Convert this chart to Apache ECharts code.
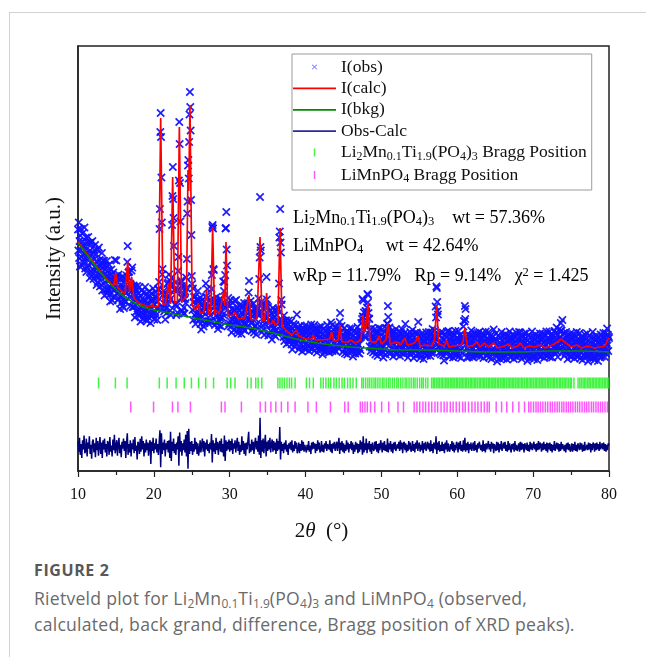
<!DOCTYPE html>
<html>
<head>
<meta charset="utf-8">
<script src="https://cdn.jsdelivr.net/npm/echarts@6/dist/echarts.min.js"></script>
<style>
  html, body { margin: 0; padding: 0; background: #fff; }
  #card { position: absolute; left: 9px; top: 12px; width: 637px; height: 645px;
          border-left: 1px solid #d2d2d2; border-top: 1px solid #d2d2d2; }
  #chart { position: absolute; left: 0; top: 0; width: 646px; height: 545px; }
  #caption { position: absolute; left: 34px; top: 561px; width: 612px;
             font-family: 'Open Sans', Lato, sans-serif; color: #6a6a6a; }
  #caption .fig { font-weight: bold; font-size: 16px; line-height: 18px; color: #585858; letter-spacing: 0.6px; }
  #caption .txt { margin-top: 6px; font-size: 17.6px; line-height: 26px; letter-spacing: 0.25px; }
  #caption sub { font-size: 12px; line-height: 0; vertical-align: -3px; letter-spacing: 0; }
</style>
</head>
<body>
<div id="card"></div>
<div id="chart"></div>
<div id="caption">
  <div class="fig">FIGURE 2</div>
  <div class="txt">Rietveld plot for Li<sub>2</sub>Mn<sub>0.1</sub>Ti<sub>1.9</sub>(PO<sub>4</sub>)<sub>3</sub> and LiMnPO<sub>4</sub> (observed,<br>calculated, back grand, difference, Bragg position of XRD peaks).</div>
</div>
<script>
// ---- 2θ axis ----
const thetaMin = 10;
const thetaMax = 80;
const thetaTickStep = 10;

// ---- observed intensity, 10°–80° in 0.05° steps (arbitrary units), one row per degree ----
const obsStart = 10;
const obsStep = 0.05;
const obsCounts = [
  483,441,497,426,460,409,471,441,484,428,450,411,459,476,418,451,424,487,434,405,
  426,467,398,444,456,406,436,468,411,426,456,386,441,417,457,399,433,391,460,404,
  436,384,423,442,400,452,390,406,434,372,420,442,378,408,387,447,393,422,369,409,
  392,416,372,436,361,407,421,375,392,420,351,403,377,411,363,390,420,355,391,362,
  401,365,413,353,382,339,392,366,403,356,375,341,382,397,348,380,362,422,386,370,
  390,421,355,385,389,342,365,393,345,358,384,324,372,351,386,337,365,330,389,342,
  369,326,359,376,340,385,338,357,391,357,418,450,387,397,361,399,348,375,330,373,
  369,401,360,407,328,363,371,328,343,369,307,355,331,362,319,343,370,313,345,320,
  356,323,368,312,340,299,349,326,361,316,335,304,342,357,311,337,317,368,325,303,
  320,354,300,337,348,308,333,359,314,327,351,296,341,323,355,310,342,313,365,316,
  342,303,333,349,318,358,312,325,348,302,339,364,325,363,378,484,524,678,716,668,
  587,497,393,404,326,353,360,319,334,357,303,345,325,353,316,343,374,334,377,364,
  393,350,381,321,344,312,374,387,492,550,608,544,506,450,362,363,333,377,333,312,
  329,361,317,363,400,428,581,698,654,576,499,377,381,347,370,320,346,315,368,327,
  354,315,344,359,336,387,366,424,515,539,611,622,585,658,713,758,728,681,542,472,
  390,374,322,365,302,338,348,312,326,349,294,335,315,342,305,330,360,318,343,313,
  339,304,347,294,321,283,330,308,342,300,318,289,326,339,296,327,314,375,349,335,
  345,364,299,327,331,294,317,341,299,311,342,300,364,392,488,492,485,404,402,329,
  338,292,321,340,311,348,298,308,330,284,321,338,291,314,299,345,305,328,289,320,
  307,335,313,379,331,360,378,332,392,485,486,518,443,411,333,332,346,291,317,295,
  331,300,342,289,316,277,324,302,336,293,311,282,322,340,300,322,297,342,302,280,
  295,327,275,311,321,284,307,332,290,302,326,274,316,299,330,287,313,282,336,295,
  320,281,311,325,294,334,288,307,336,304,357,380,325,332,303,340,296,319,280,310,
  298,318,284,335,277,314,325,289,304,327,273,315,295,323,286,313,345,315,384,427,
  548,448,441,338,333,278,318,291,325,283,301,272,309,328,293,332,328,388,343,307,
  307,328,271,302,312,275,297,321,280,292,315,263,294,291,326,285,308,273,322,281,
  308,269,298,313,282,321,275,294,325,298,375,467,479,524,457,437,342,333,278,301,
  282,297,268,311,260,291,301,269,282,301,254,289,271,295,262,280,301,257,281,262,
  288,262,299,253,276,243,284,265,294,258,273,249,280,292,255,277,265,313,283,262,
  260,288,243,273,281,249,270,291,254,266,284,239,276,261,286,249,271,245,290,254,
  276,243,268,281,255,289,250,261,280,240,272,287,246,265,253,293,258,278,244,271,
  269,283,251,292,241,273,283,251,264,284,237,273,256,280,248,266,288,244,268,249,
  278,252,289,243,266,233,274,255,284,248,263,239,270,282,245,267,250,292,258,240,
  254,282,237,268,276,244,270,297,266,278,292,240,271,256,282,245,268,241,287,250,
  272,239,264,277,251,285,246,262,288,257,298,316,269,276,255,290,252,272,238,265,
  255,271,242,286,235,267,277,246,259,280,233,269,252,276,244,262,285,240,266,247,
  274,248,285,239,262,229,270,251,280,244,259,235,266,278,241,263,246,288,254,236,
  252,280,235,266,274,242,268,296,273,304,344,309,341,308,317,270,290,267,320,290,
  319,291,327,354,337,352,316,305,304,249,273,282,240,259,247,286,251,271,237,263,
  253,269,240,284,233,265,275,244,257,277,230,270,258,286,255,269,285,237,262,243,
  272,246,283,237,260,227,268,249,278,242,257,233,268,286,259,295,294,330,308,276,
  272,287,234,261,269,237,259,280,244,254,274,229,267,252,279,242,265,238,284,248,
  266,233,258,271,245,279,240,251,270,230,262,277,236,255,243,283,248,268,234,261,
  254,276,252,294,237,265,272,241,254,274,227,263,246,270,238,256,278,234,259,240,
  272,246,282,236,259,226,267,247,276,240,255,231,262,277,246,274,259,298,256,233,
  243,271,226,257,265,233,254,275,239,249,269,224,261,246,272,235,258,231,277,241,
  264,231,256,270,244,278,239,251,270,230,262,277,236,255,244,284,249,269,236,266,
  259,281,264,329,307,369,366,338,320,313,248,273,250,270,238,256,277,233,258,239,
  266,240,277,231,254,221,262,243,272,240,259,238,270,279,237,255,238,280,246,228,
  263,230,255,268,242,276,237,248,267,227,259,274,233,252,240,280,245,265,231,258,
  249,265,236,280,229,261,271,240,253,273,226,262,245,269,237,260,289,257,300,299,
  330,304,324,260,269,227,263,244,273,237,252,228,259,271,234,256,239,281,247,229,
  244,272,227,258,266,234,255,276,240,250,273,231,270,253,276,236,259,232,278,242,
  262,229,254,267,241,275,236,247,266,226,258,273,240,257,242,279,244,264,230,257,
  247,263,234,278,227,259,269,238,251,271,224,260,243,267,239,260,283,237,259,237,
  264,238,275,229,252,219,260,241,270,234,249,225,256,268,231,253,236,278,244,226,
  242,270,225,256,264,232,253,274,238,248,268,223,260,245,271,237,263,235,279,240,
  260,227,252,265,239,273,234,245,264,224,256,271,230,249,237,277,242,262,228,255,
  247,263,234,278,231,266,277,244,254,271,224,260,243,267,235,253,275,231,256,237,
  265,239,276,230,253,220,261,242,271,235,250,226,257,269,232,254,237,279,245,227,
  241,269,224,255,263,231,252,273,237,247,267,222,259,244,270,233,256,229,275,239,
  262,229,254,267,241,275,236,247,266,226,258,273,232,251,239,279,244,264,230,257,
  247,263,235,279,228,261,271,240,253,274,227,263,247,271,239,257,280,236,261,243,
  275,247,287,238,262,228,272,252,283,245,265,243,280,296,259,281,259,302,263,240,
  248,276,230,261,268,236,256,278,241,250,270,224,261,246,272,234,256,229,275,238,
  261,228,253,266,240,274,235,246,265,225,257,272,231,250,238,278,243,263,229,256,
  245,261,232,276,225,257,267,236,249,269,222,258,241,265,233,251,273,229,254,235,
  264,238,275,229,252,219,260,241,270,234,249,225,256,268,231,253,236,278,244,226,
  239,267,222,253,261,229,250,271,235,245,265,220,257,242,268,231,254,227,273,237,
  262,229,254,267,242,276,237,248,268,228,260,276,235,255,244,285,251,272,240,269,
  266
];

// ---- calculated profile [2θ, I] ----
const calcProfile = [
  [10,458],[11,438],[12,418],[13,398],[14,380],[14.7,370],[14.97,396],[15.25,366],
  [16.2,354],[16.55,418],[16.8,358],[17.07,388],[17.35,346],[18,336],[19,330],[19.7,329],
  [19.84,336],[20.0,327],[20.6,330],[20.9,706],[21.2,334],[21.5,332],[21.95,376],[22.2,334],
  [22.48,588],[22.75,336],[23.1,340],[23.36,688],[23.65,338],[23.9,336],[24.3,350],[24.5,602],
  [24.6,560],[24.76,732],[25.05,332],[25.5,322],[25.86,336],[26.1,316],[26.6,318],[26.96,362],
  [27.2,314],[27.5,314],[27.75,488],[28.0,312],[28.2,322],[28.6,314],[29.2,358],[29.35,330],
  [29.51,458],[29.75,310],[30.5,312],[30.7,318],[31.1,304],[32.0,306],[32.54,352],[32.8,302],
  [33.6,304],[33.99,468],[34.25,300],[34.6,302],[34.87,356],[35.1,296],[35.5,294],[35.75,302],
  [36.0,292],[36.35,296],[36.63,486],[36.9,290],[37.5,280],[38.2,272],[38.8,282],[39.1,270],
  [40,264],[40.8,264],[41.0,272],[41.3,262],[42,262],[43.2,264],[43.44,278],[43.7,260],
  [44.3,262],[44.54,292],[44.8,258],[45.5,258],[46,262],[46.5,256],[47.3,262],[47.57,312],
  [47.8,278],[48.0,290],[48.23,336],[48.5,260],[49.2,256],[49.7,270],[50.0,254],[50.6,262],
  [50.87,296],[51.15,254],[52,258],[52.5,252],[53.11,266],[53.4,252],[54.0,254],[54.5,258],
  [54.82,270],[55.1,250],[56.0,252],[56.6,250],[57.0,262],[57.28,332],[57.55,254],[58.3,250],
  [58.6,262],[58.9,248],[59.5,250],[60.5,252],[60.75,258],[61.0,286],[61.3,250],[62.0,250],
  [62.6,258],[63.0,248],[63.6,256],[64.1,248],[64.8,256],[65.3,246],[66.2,250],[66.8,254],
  [67.2,246],[68.0,250],[68.3,256],[68.8,246],[69.5,250],[70.2,248],[71.0,252],[71.6,246],
  [72.5,252],[73.2,258],[73.7,264],[74.3,256],[75.0,248],[75.8,252],[76.4,246],[77.2,250],
  [78.0,246],[78.8,248],[79.5,250],[79.8,262],[80,266]
];

// ---- refined background [2θ, I] ----
const bkgProfile = [
  [10,456],[11,436],[12,416],[13,396],[14,378],[15,363],[16,350],[17,340],[18,332],[19,326],
  [20,322],[22,316],[24,310],[26,304],[28,298],[30,292],[32,288],[34,282],[36,275],[38,267],
  [40,260],[42,255],[44,251],[46,248],[48,246],[50,244],[52,242],[56,242],[60,240],[64,238],
  [68,238],[72,240],[76,240],[80,238]
];

// ---- difference curve Obs-Calc, 10°–80° in 0.1° steps ----
const diffStart = 10;
const diffStep = 0.1;
const diffCounts = [
  8,-6,12,-10,4,-14,9,-3,15,-8,   -5,11,-12,6,-2,14,-9,3,-15,7,
  10,-7,5,-13,12,-4,8,-11,2,13,   -9,6,-14,9,-3,11,-7,4,-12,8,
  5,-10,13,-6,2,-12,10,-4,16,-8,  -6,9,-11,4,12,-8,3,-13,7,-2,
  11,-5,8,-14,6,18,-10,4,-7,9,    -12,5,-3,10,-8,13,-5,2,-16,7,
  4,-9,11,-6,14,-3,8,-12,5,-7,    10,-4,6,-11,3,9,-22,7,-5,12,
  -8,5,-3,11,-7,4,-10,6,22,-26,   18,-9,6,-4,10,-12,5,-3,8,-7,
  9,-14,20,-18,7,-5,11,-8,4,-10,  6,-3,14,-24,19,-6,8,-11,5,-4,
  10,-7,16,-12,21,-28,24,-9,7,-5, 8,-10,4,-6,12,-3,7,-9,5,-11,
  -4,9,-7,3,11,-6,8,-12,6,-3,     10,-5,4,-8,6,-3,17,-20,9,-6,
  5,-9,12,-4,7,-10,3,8,-6,11,     -7,4,-12,15,-18,9,-5,7,-3,10,
  -6,8,-4,11,-9,5,-2,9,-7,4,      12,-5,7,-10,3,-6,14,-4,8,-9,
  5,-11,6,-3,9,20,-8,4,-6,10,     -4,7,-9,5,12,-3,8,-6,15,-10,
  38,-14,9,-6,11,-8,5,16,-12,7,   -5,9,-3,12,-7,4,10,-6,8,-4,
  6,-9,11,-5,8,-3,26,-16,7,-5,    4,-8,6,-3,9,-6,3,-10,5,-2,
  7,-4,9,-7,3,-5,8,-2,6,-8,       -3,6,-8,4,-5,9,-4,7,-6,3,
  5,-7,3,-4,8,-6,2,-9,6,-3,       7,-2,5,-8,4,-5,9,-3,6,-7,
  -4,8,-6,3,-7,5,-2,8,-5,4,       6,-3,9,-6,4,-8,5,-2,7,-5,
  -3,7,-5,4,12,-9,6,-4,8,-6,      5,-8,3,-5,9,-3,6,-7,4,-2,
  8,-4,6,-9,3,-6,7,-3,5,-8,       4,-6,9,-3,7,-10,14,-7,5,-4,
  11,-8,5,-3,8,-6,4,-9,6,-2,      -5,7,-3,8,-6,4,-8,5,-4,9,
  3,-7,6,-4,8,-5,3,-6,11,-7,      5,-3,8,-6,4,-8,6,-3,7,-5,
  -6,4,-2,7,-5,9,-3,6,-8,4,       7,-4,5,-7,3,-5,8,-3,6,-6,
  -3,8,-5,4,-7,6,-2,9,-5,3,       6,-6,3,-4,8,-8,5,-3,7,-5,
  -4,7,-3,5,-6,9,-5,4,-8,6,       5,-3,14,-9,6,-4,8,-6,3,-5,
  7,-5,4,-8,6,-3,9,-6,5,-3,       -6,4,-3,8,-5,6,-7,3,-4,7,
  4,-7,6,-3,8,-5,3,-6,9,-4,       12,-6,5,-4,7,-8,4,-3,6,-5,
  -3,6,-5,8,-4,3,-7,5,-2,7,       6,-4,3,-6,9,-5,4,-7,5,-3,
  -5,8,-3,4,-6,7,-2,5,-8,4,       3,-5,7,-4,6,-7,4,-3,8,-5,
  -4,6,-2,7,-5,3,-6,8,-4,5,       6,-7,4,-3,5,-6,8,-4,3,-5,
  -3,5,-6,7,-4,6,-3,4,-7,5,       4,-4,6,-5,3,-6,7,-3,5,-4,
  -5,7,-3,4,-6,5,-4,8,-3,6,       3,-6,5,-4,7,-3,4,-5,6,-7,
  5,-3,6,-5,4,-7,3,-4,8,-5,       -4,6,-3,5,-6,4,-5,7,-3,4,
  6,-5,3,-7,5,-3,6,-4,4,-6,       -3,5,-6,4,-4,7,-5,3,-6,5,
  4,-4,6,-3,5,-6,3,-5,7,-4,       -5,3,-4,6,-3,5,-7,4,-4,6,
  3,-6,5,-4,6,-3,4,-5,7,-3,       -4,5,-3,6,-5,4,-6,3,-4,5,
  2
];

// ---- Bragg reflection positions (2θ) ----
const braggLMTP = [
  12.71, 14.93, 16.47, 20.72, 21.75, 22.93, 24.01, 24.95, 25.90, 26.83, 27.87, 29.66, 30.13,
  30.70, 32.34, 32.82, 33.43, 33.75, 34.23, 36.35, 36.62, 36.90, 37.21, 37.55, 37.86, 38.15,
  38.62, 40.11, 40.52, 41.02, 42.01, 42.33, 42.68, 43.02, 43.31, 43.74, 44.05, 44.43, 44.81,
  45.12, 45.54, 45.88, 46.25, 46.68, 47.41, 47.63, 47.92, 48.21, 48.46, 48.74, 49.02, 49.25,
  49.53, 49.81, 50.12, 50.34, 50.63, 50.92, 51.14, 51.45, 51.72, 52.03, 52.24, 52.55, 52.83,
  53.12, 53.35, 53.64, 53.92, 54.21, 54.43, 54.72, 55.04, 55.31, 55.52, 55.83, 56.12, 56.61,
  56.83, 57.02, 57.24, 57.45, 57.63, 57.86, 58.04, 58.25, 58.47, 58.66, 58.85, 59.07, 59.28,
  59.46, 59.67, 59.88, 60.05, 60.27, 60.48, 60.66, 60.87, 61.08, 61.26, 61.47, 61.69, 61.86,
  62.07, 62.28, 62.45, 62.66, 62.88, 63.06, 63.27, 63.48, 63.65, 63.87, 64.08, 64.26, 64.47,
  64.68, 64.86, 65.05, 65.27, 65.46, 65.67, 65.88, 66.06, 66.25, 66.47, 66.68, 66.86, 67.07,
  67.26, 67.45, 67.66, 67.87, 68.05, 68.26, 68.47, 68.65, 68.86, 69.08, 69.25, 69.46, 69.67,
  69.85, 70.06, 70.27, 70.46, 70.65, 70.87, 71.06, 71.27, 71.45, 71.66, 71.88, 72.06, 72.25,
  72.47, 72.66, 72.85, 73.07, 73.26, 73.48, 73.65, 73.86, 74.07, 74.25, 74.46, 74.67, 74.88,
  75.05, 75.38, 75.92, 76.15, 76.36, 76.58, 76.77, 76.96, 77.18, 77.37, 77.55, 77.78, 77.96,
  78.17, 78.36, 78.57, 78.76, 78.95, 79.16, 79.37, 79.55, 79.76, 79.94
];
const braggLMP = [
  16.95, 19.96, 22.45, 23.17, 24.82, 28.90, 29.38, 31.54, 34.02, 34.71, 35.43, 36.08, 36.81,
  37.66, 38.62, 40.31, 41.42, 43.28, 45.16, 45.62, 47.22, 47.51, 47.83, 48.14, 48.57, 49.12,
  50.03, 50.96, 52.18, 52.91, 54.32, 54.68, 55.05, 55.47, 55.82, 56.24, 56.63, 57.06, 57.41,
  57.86, 58.27, 58.65, 59.08, 59.45, 59.86, 60.28, 60.71, 61.05, 61.48, 61.93, 62.34, 62.72,
  63.15, 63.56, 63.94, 64.22, 65.13, 65.84, 66.52, 67.31, 68.12, 68.86, 69.42, 69.71, 70.05,
  70.38, 70.66, 70.97, 71.28, 71.61, 71.92, 72.25, 72.54, 72.86, 73.17, 73.46, 73.78, 74.05,
  74.37, 74.66, 74.95, 75.24, 75.56, 75.86, 76.14, 76.45, 76.77, 77.06, 77.35, 77.68, 77.96,
  78.28, 78.57, 78.88, 79.16, 79.47, 79.78
];

// ---- figure text ----
const nameObs = 'I(obs)';
const nameCalc = 'I(calc)';
const nameBkg = 'I(bkg)';
const nameDiff = 'Obs-Calc';
const nameLMTP = 'Li2Mn0.1Ti1.9(PO4)3 Bragg Position';
const nameLMP = 'LiMnPO4 Bragg Position';
const fitLines = [
  '{n|Li}{s|2}{n|Mn}{s|0.1}{n|Ti}{s|1.9}{n|(PO}{s|4}{n|)}{s|3}{n|    wt = 57.36%}',
  '{n|LiMnPO}{s|4}{n|     wt = 42.64%}',
  '{n|wRp = 11.79%   Rp = 9.14%   \u03c7}{p|2}{n| = 1.425}'
];
const legendText = {
  [nameObs]: '{n|I(obs)}',
  [nameCalc]: '{n|I(calc)}',
  [nameBkg]: '{n|I(bkg)}',
  [nameDiff]: '{n|Obs-Calc}',
  [nameLMTP]: '{n|Li}{s|2}{n|Mn}{s|0.1}{n|Ti}{s|1.9}{n|(PO}{s|4}{n|)}{s|3}{n| Bragg Position}',
  [nameLMP]: '{n|LiMnPO}{s|4}{n| Bragg Position}'
};

// ---- styling ----
const serif = "'Liberation Serif', 'Times New Roman', serif";
const ink = '#111';
function richSet(size, subSize) {
  return {
    n: { fontFamily: serif, fontSize: size, lineHeight: 20, color: ink },
    s: { fontFamily: serif, fontSize: subSize, lineHeight: 8, verticalAlign: 'bottom', color: ink },
    p: { fontFamily: serif, fontSize: subSize, lineHeight: 8, verticalAlign: 'top', color: ink }
  };
}
// thin "×" marker
const crossPath = 'path://M0,1.4 L1.4,0 L5,3.6 L8.6,0 L10,1.4 L6.4,5 L10,8.6 L8.6,10 L5,6.4 L1.4,10 L0,8.6 L3.6,5 Z';
// legend icons carry a padded frame so the glyph stays small inside the icon box
const crossIcon = 'path://M0,0 L0.01,0 L0,0.01 Z M20,20 L19.99,20 L20,19.99 Z ' +
  'M6.5,7 L7,6.5 L10,9.5 L13,6.5 L13.5,7 L10.5,10 L13.5,13 L13,13.5 L10,10.5 L7,13.5 L6.5,13 L9.5,10 Z';
const tickIcon = 'path://M0,0 L0.01,0 L0,0.01 Z M20,20 L19.99,20 L20,19.99 Z M9,4.3 L11,4.3 L11,15.7 L9,15.7 Z';
const lineIcon = 'path://M0,0 L43,0 L43,1.8 L0,1.8 Z';

const upperRowLevel = 176;  // y level of the first Bragg row (main axis units)
const lowerRowLevel = 128;  // y level of the second Bragg row

const obsData = obsCounts.map((v, i) => [+(obsStart + i * obsStep).toFixed(2), v]);
const diffData = diffCounts.map((v, i) => [+(diffStart + i * diffStep).toFixed(1), v]);

const chart = echarts.init(document.getElementById('chart'), null, { renderer: 'canvas' });
chart.setOption({
  animation: false,
  backgroundColor: 'transparent',
  grid: {
    left: 78, right: 37, top: 46, bottom: 74,
    show: true, borderColor: '#222', borderWidth: 1.5, backgroundColor: 'transparent',
    outerBoundsMode: 'none'
  },
  xAxis: {
    type: 'value', min: thetaMin, max: thetaMax, interval: thetaTickStep,
    axisLine: { show: true, onZero: false, lineStyle: { color: '#222', width: 1.5 } },
    axisTick: { show: true, length: 6, lineStyle: { color: '#222', width: 1.2 } },
    minorTick: { show: true, splitNumber: 2, length: 4, lineStyle: { color: '#222', width: 1.2 } },
    axisLabel: { color: ink, fontFamily: serif, fontSize: 16, margin: 16 },
    splitLine: { show: false },
    name: '{a|2}{t|\u03b8}{a|  (\u00b0)}',
    nameLocation: 'middle', nameGap: 50,
    nameTextStyle: {
      padding: [0, 44, 0, 0],
      rich: {
        a: { fontFamily: serif, fontSize: 21, color: ink },
        t: { fontFamily: serif, fontSize: 21, fontStyle: 'italic', color: ink }
      }
    }
  },
  yAxis: [
    {
      type: 'value', min: 0, max: 850,
      axisLine: { show: true, lineStyle: { color: '#222', width: 1.5 } },
      axisTick: { show: false }, axisLabel: { show: false }, splitLine: { show: false },
      name: 'Intensity (a.u.)', nameLocation: 'middle', nameGap: 13, nameRotate: 90,
      nameTextStyle: { fontFamily: serif, fontSize: 21, color: ink }
    },
    // Obs-Calc is drawn on its own offset scale below the pattern
    { type: 'value', min: -31, max: 521, show: false }
  ],
  legend: {
    orient: 'vertical', left: 292, top: 54,
    padding: [4, 5, 5, 1],
    itemWidth: 43, itemHeight: 14, itemGap: 3.4,
    borderColor: '#9a9a9a', borderWidth: 1, backgroundColor: '#fff',
    selectedMode: false,
    data: [
      { name: nameObs, icon: crossIcon },
      { name: nameCalc, icon: lineIcon },
      { name: nameBkg, icon: lineIcon },
      { name: nameDiff, icon: lineIcon },
      { name: nameLMTP, icon: tickIcon },
      { name: nameLMP, icon: tickIcon }
    ],
    formatter: n => legendText[n],
    textStyle: { rich: richSet(17.5, 12) }
  },
  graphic: [
    { type: 'text', left: 293, top: 209, style: { text: fitLines[0], rich: richSet(18, 12.5) } },
    { type: 'text', left: 293, top: 237, style: { text: fitLines[1], rich: richSet(18, 12.5) } },
    { type: 'text', left: 293, top: 266, style: { text: fitLines[2], rich: richSet(18, 12.5) } }
  ],
  series: [
    {
      name: nameObs, type: 'scatter', data: obsData, z: 1,
      symbol: crossPath, symbolSize: 8.5,
      itemStyle: { color: '#1212ff', opacity: 0.95 },
      emphasis: { disabled: true }, silent: true
    },
    {
      name: nameCalc, type: 'line', data: calcProfile, z: 3,
      symbol: 'none', lineStyle: { color: '#ff0000', width: 1.7 },
      itemStyle: { color: '#ff0000' }, silent: true
    },
    {
      name: nameBkg, type: 'line', data: bkgProfile, z: 4, smooth: 0.3,
      symbol: 'none', lineStyle: { color: '#008a00', width: 1.6 },
      itemStyle: { color: '#008a00' }, silent: true
    },
    {
      name: nameDiff, type: 'line', data: diffData, yAxisIndex: 1, z: 2,
      symbol: 'none', lineStyle: { color: '#00007a', width: 1.5 },
      itemStyle: { color: '#2a2a9a' }, silent: true
    },
    {
      name: nameLMTP, type: 'scatter', z: 2,
      data: braggLMTP.map(t => [t, upperRowLevel]),
      symbol: 'rect', symbolSize: [1.5, 11],
      itemStyle: { color: '#14f014' }, silent: true
    },
    {
      name: nameLMP, type: 'scatter', z: 2,
      data: braggLMP.map(t => [t, lowerRowLevel]),
      symbol: 'rect', symbolSize: [1.5, 11],
      itemStyle: { color: '#ff2cff' }, silent: true
    }
  ]
});
</script>
</body>
</html>
